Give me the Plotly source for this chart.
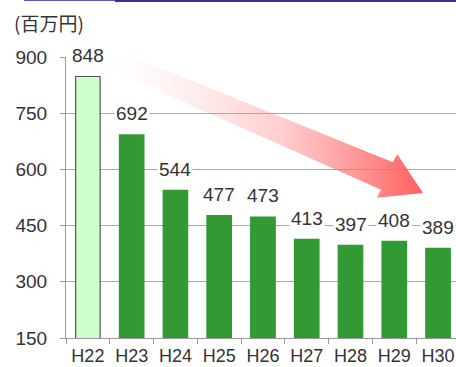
import math
import plotly.graph_objects as go

# 年度別の金額（百万円）
years = ["H22", "H23", "H24", "H25", "H26", "H27", "H28", "H29", "H30"]
amounts = [848, 692, 544, 477, 473, 413, 397, 408, 389]
y_ticks = [150, 300, 450, 600, 750, 900]
unit_label = "(百万円)"

W, H = 456, 367
ML, MR, MT, MB = 66, 0, 57, 29
PW, PH = W - ML - MR, H - MT - MB

base_color = "#339933"
first_color = "#ccffcc"
fill_colors = [first_color] + [base_color] * (len(years) - 1)
line_colors = ["#555555"] + [base_color] * (len(years) - 1)

num_font = "Liberation Sans, Arial, sans-serif"
text_color = "#333333"
grid_color = "#a8a8a8"

fig = go.Figure()
fig.add_trace(go.Bar(
    x=years, y=amounts, width=0.56,
    marker=dict(color=fill_colors, line=dict(color=line_colors, width=1.2)),
    hoverinfo="skip", showlegend=False,
))

# decorative downward trend arrow, drawn in plot-area pixel space
tail = (48.0, 3.0)
base = (321.0, 119.0)
tip = (357.0, 136.0)
dx, dy = base[0] - tail[0], base[1] - tail[1]
L = math.hypot(dx, dy)
ux, uy = dx / L, dy / L
nx, ny = -uy, ux
hx, hy = tip[0] - base[0], tip[1] - base[1]
hl = math.hypot(hx, hy)
hnx, hny = -hy / hl, hx / hl
pts = [
    (tail[0] + nx * 10, tail[1] + ny * 10),
    (base[0] + nx * 15, base[1] + ny * 15),
    (base[0] + hnx * 24, base[1] + hny * 24),
    tip,
    (base[0] - hnx * 24, base[1] - hny * 24),
    (base[0] - nx * 15, base[1] - ny * 15),
    (tail[0] - nx * 10, tail[1] - ny * 10),
]
pts.append(pts[0])
fig.add_trace(go.Scatter(
    x=[p[0] for p in pts], y=[p[1] for p in pts],
    xaxis="x2", yaxis="y2", mode="lines", line=dict(width=0),
    fill="toself",
    fillgradient=dict(type="horizontal", colorscale=[
        [0.0, "rgba(255,200,200,0.0)"],
        [0.2, "rgba(255,150,150,0.12)"],
        [0.55, "rgba(255,125,125,0.38)"],
        [0.85, "rgba(255,105,105,0.80)"],
        [1.0, "rgba(255,95,95,1.0)"],
    ]),
    hoverinfo="skip", showlegend=False,
))

annotations = []
for yr, v in zip(years, amounts):
    annotations.append(dict(
        x=yr, y=v, xref="x", yref="y", text=str(v), showarrow=False,
        yanchor="middle", yshift=21, bgcolor="white", borderpad=1,
        font=dict(family=num_font, size=19, color=text_color),
    ))
annotations.append(dict(
    x=(12 - ML) / PW, y=(H - 22 - MB) / PH, xref="paper", yref="paper",
    xanchor="left", yanchor="middle", text=unit_label, showarrow=False,
    font=dict(family="Noto Sans CJK JP", size=19, color=text_color),
))

shapes = [
    dict(type="line", xref="paper", yref="paper",
         x0=(24 - ML) / PW, x1=(115 - ML) / PW,
         y0=(H - 0.5 - MB) / PH, y1=(H - 0.5 - MB) / PH,
         line=dict(color="#5555bb", width=1.2)),
    dict(type="line", xref="paper", yref="paper",
         x0=(115 - ML) / PW, x1=1.0,
         y0=(H - 1 - MB) / PH, y1=(H - 1 - MB) / PH,
         line=dict(color="#333399", width=2.2)),
]

fig.update_layout(
    width=W, height=H,
    margin=dict(l=ML, r=MR, t=MT, b=MB, pad=0),
    paper_bgcolor="white", plot_bgcolor="white",
    bargap=0.44,
    xaxis=dict(
        type="category", range=[-0.5, -0.5 + PW / 43.77],
        showgrid=False, showline=True, linecolor="#999999", linewidth=1.2,
        ticks="outside", ticklen=5, tickcolor="#999999", tickson="boundaries",
        ticklabelstandoff=1, tickangle=0, automargin=False,
        tickfont=dict(family=num_font, size=18, color=text_color),
        fixedrange=True,
    ),
    yaxis=dict(
        range=[150, 900], tickvals=y_ticks,
        showgrid=True, gridcolor=grid_color, gridwidth=1.3, zeroline=False,
        showline=True, linecolor="#999999", linewidth=1.2,
        ticks="outside", ticklen=5, tickcolor="#999999",
        ticklabelstandoff=9, automargin=False,
        tickfont=dict(family=num_font, size=19, color=text_color),
        fixedrange=True,
    ),
    xaxis2=dict(overlaying="x", range=[0, PW], visible=False, fixedrange=True),
    yaxis2=dict(overlaying="y", range=[PH, 0], visible=False, fixedrange=True),
    annotations=annotations,
    shapes=shapes,
)

fig.write_html("out.html")
